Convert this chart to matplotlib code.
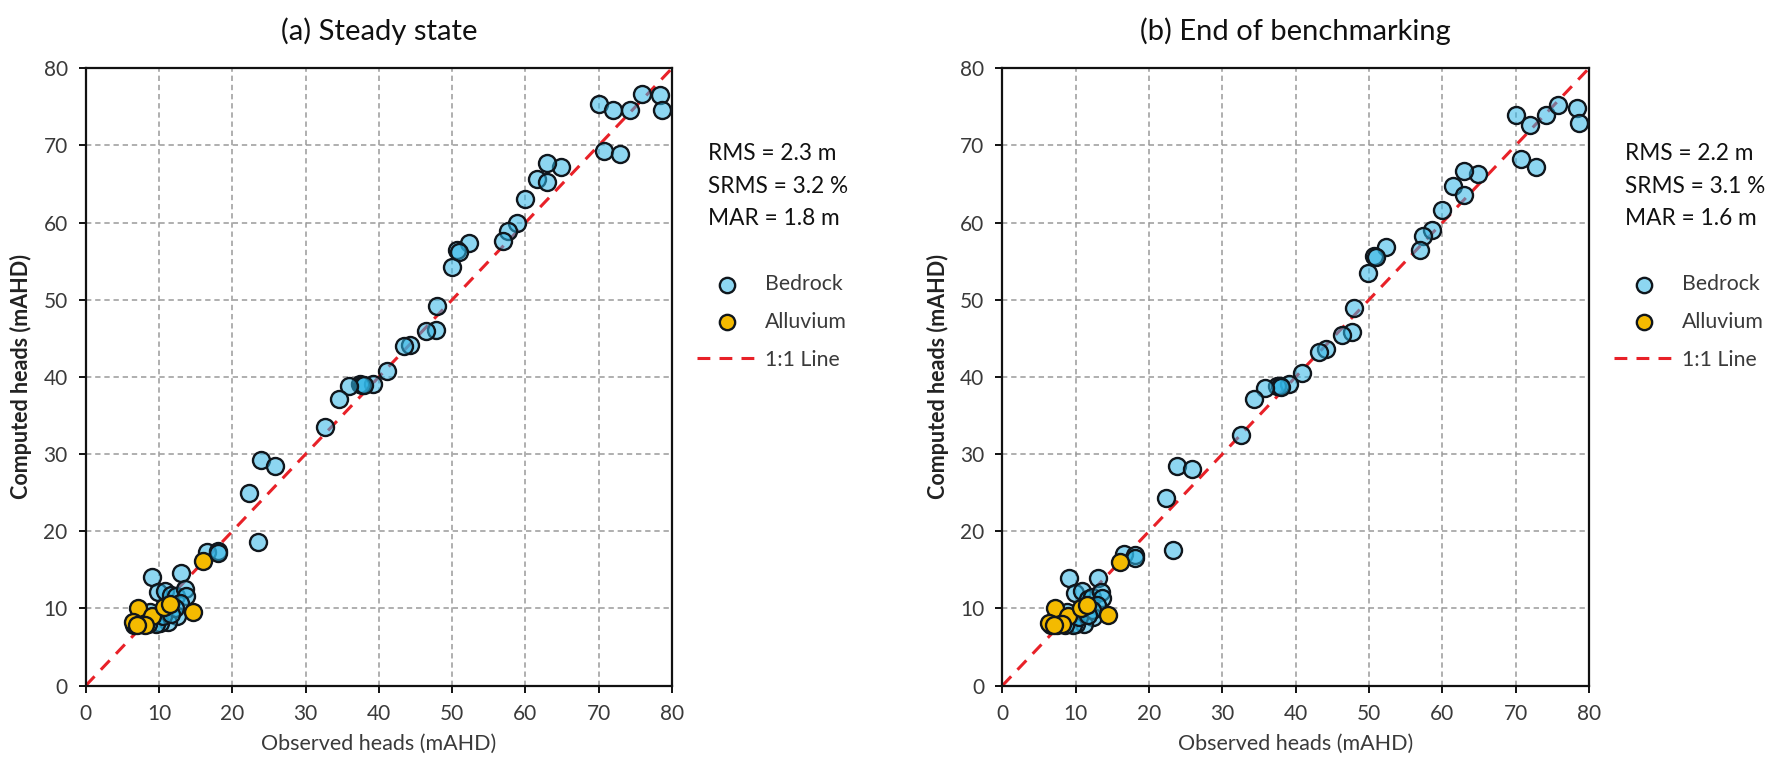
import matplotlib
matplotlib.use("Agg")
import matplotlib.pyplot as plt

plt.rcParams['font.family'] = ['Lato', 'DejaVu Sans']

# ---- Panel (a): steady state ----
a_bed_obs = [70.0, 72.0, 74.3, 75.9, 78.4, 78.6, 70.7, 72.9,
             64.9, 63.0, 61.6, 62.9, 60.0, 58.8, 57.6, 57.0,
             52.3, 50.6, 50.9, 50.0, 48.0, 47.8, 46.5, 44.2, 43.4,
             41.1, 39.2, 37.4, 37.7, 38.0, 35.9, 34.5, 32.7,
             23.9, 25.8, 22.3, 23.5, 16.6, 18.1, 18.0,
             9.1, 13.0, 9.9, 10.8, 11.7, 12.3, 13.5, 13.7, 12.9, 12.4,
             11.2, 10.1, 8.8, 12.2, 9.6, 8.5, 7.5, 6.6, 10.5, 11.7]
a_bed_cmp = [75.4, 74.6, 74.6, 76.7, 76.5, 74.6, 69.3, 68.9,
             67.2, 67.7, 65.6, 65.2, 63.1, 60.0, 58.9, 57.6,
             57.3, 56.5, 56.2, 54.2, 49.2, 46.1, 45.9, 44.2, 44.0,
             40.8, 39.1, 39.1, 39.0, 38.9, 38.8, 37.2, 33.5,
             29.3, 28.5, 24.9, 18.6, 17.3, 17.4, 17.2,
             14.1, 14.6, 12.1, 12.3, 11.8, 11.6, 12.5, 11.6, 10.7, 9.0,
             8.2, 8.1, 9.6, 10.0, 8.0, 8.0, 8.0, 7.9, 9.0, 9.3]
a_all_obs = [7.2, 6.4, 9.0, 8.1, 10.7, 11.5, 14.6, 16.0, 7.0]
a_all_cmp = [10.1, 8.2, 9.0, 7.9, 10.2, 10.6, 9.5, 16.2, 7.9]

# ---- Panel (b): end of benchmarking ----
b_bed_obs = [70.1, 71.9, 74.2, 75.8, 78.4, 78.7, 70.7, 72.8,
             64.9, 62.9, 61.5, 62.9, 60.0, 58.6, 57.4, 56.9,
             52.3, 50.7, 50.9, 49.9, 47.9, 47.7, 46.3, 44.2, 43.2,
             40.9, 39.1, 37.5, 37.8, 38.0, 35.8, 34.3, 32.6,
             23.8, 25.9, 22.3, 23.3, 16.6, 18.1, 18.1,
             9.1, 13.0, 9.9, 10.8, 11.7, 12.2, 13.4, 13.6, 12.9, 12.4,
             11.2, 10.1, 8.8, 12.2, 9.6, 8.5, 7.5, 6.6, 10.5, 11.7]
b_bed_cmp = [73.9, 72.6, 73.9, 75.3, 74.8, 72.9, 68.2, 67.2,
             66.3, 66.7, 64.7, 63.6, 61.6, 59.1, 58.3, 56.5,
             56.8, 55.7, 55.5, 53.5, 48.9, 45.8, 45.5, 43.6, 43.2,
             40.5, 39.1, 38.8, 38.8, 38.7, 38.6, 37.1, 32.5,
             28.4, 28.1, 24.3, 17.6, 17.0, 16.9, 16.5,
             13.9, 13.9, 12.0, 12.3, 11.2, 11.5, 12.1, 11.4, 10.5, 8.9,
             8.0, 8.0, 9.6, 9.8, 7.9, 7.9, 7.9, 7.8, 8.9, 9.2]
b_all_obs = [7.2, 6.3, 9.0, 8.2, 10.7, 11.5, 14.4, 16.0, 7.0]
b_all_cmp = [10.0, 8.1, 9.0, 8.0, 10.1, 10.5, 9.1, 16.0, 7.9]

titles = ["(a) Steady state", "(b) End of benchmarking"]
stats = [["RMS = 2.3 m", "SRMS = 3.2 %", "MAR = 1.8 m"],
         ["RMS = 2.2 m", "SRMS = 3.1 %", "MAR = 1.6 m"]]
ticks = [0, 10, 20, 30, 40, 50, 60, 70, 80]

BED_FACE = (0.19, 0.71, 0.90, 0.55)
ALL_FACE = '#F4BA00'
EDGE = '#10161c'
LINE_RED = '#E82128'
TXT = '#3a3a3a'

fig = plt.figure(figsize=(17.87, 7.65), dpi=100)
axes = [fig.add_axes([0.04796, 0.1037, 0.3281, 0.8071]),
        fig.add_axes([0.5609, 0.1037, 0.3283, 0.8071])]

panels = [(a_bed_obs, a_bed_cmp, a_all_obs, a_all_cmp),
          (b_bed_obs, b_bed_cmp, b_all_obs, b_all_cmp)]

for ax, (bx, by, ax_, ay), title, st in zip(axes, panels, titles, stats):
    ax.set_xlim(0, 80)
    ax.set_ylim(0, 80)
    ax.set_xticks(ticks)
    ax.set_yticks(ticks)
    ax.grid(True, color='#9a9a9a', linestyle=(0, (3.5, 2.5)), linewidth=1.1)
    ax.set_axisbelow(True)
    for sp in ax.spines.values():
        sp.set_linewidth(1.6)
        sp.set_color('#111111')
    ax.tick_params(direction='out', length=5, width=1.4, pad=8,
                   labelsize=15, labelcolor=TXT, color='#111111')

    line, = ax.plot([0, 80], [0, 80], color=LINE_RED, linewidth=2.2,
                    label='1:1 Line', zorder=2)
    line.set_dashes((4.2, 3.0))
    sb = ax.scatter(bx, by, s=150, facecolor=BED_FACE, edgecolor=EDGE,
                    linewidth=1.7, zorder=3, label='Bedrock')
    sa = ax.scatter(ax_, ay, s=150, facecolor=ALL_FACE, edgecolor=EDGE,
                    linewidth=1.7, zorder=4, label='Alluvium')

    ax.set_title(title, fontsize=21, color='#111111', pad=20)
    ax.set_xlabel('Observed heads (mAHD)', fontsize=15.5, color=TXT, labelpad=7)
    ax.set_ylabel('Computed heads (mAHD)', fontsize=15.5, color='#222222',
                  labelpad=8, fontweight='bold')

    for i, s in enumerate(st):
        ax.text(1.062, 0.862 - i * 0.053, s, transform=ax.transAxes,
                fontsize=16.3, color='#111111', va='center', ha='left')

    leg = ax.legend(handles=[sb, sa, line], loc='center left',
                    bbox_to_anchor=(1.042, 0.589), frameon=False,
                    borderaxespad=0, borderpad=0,
                    fontsize=15.3, handlelength=2.87, handletextpad=0.33,
                    labelspacing=0.84, scatterpoints=1, markerscale=0.9)
    for t in leg.get_texts():
        t.set_color(TXT)

fig.savefig('out.png', dpi=100, facecolor='white')
